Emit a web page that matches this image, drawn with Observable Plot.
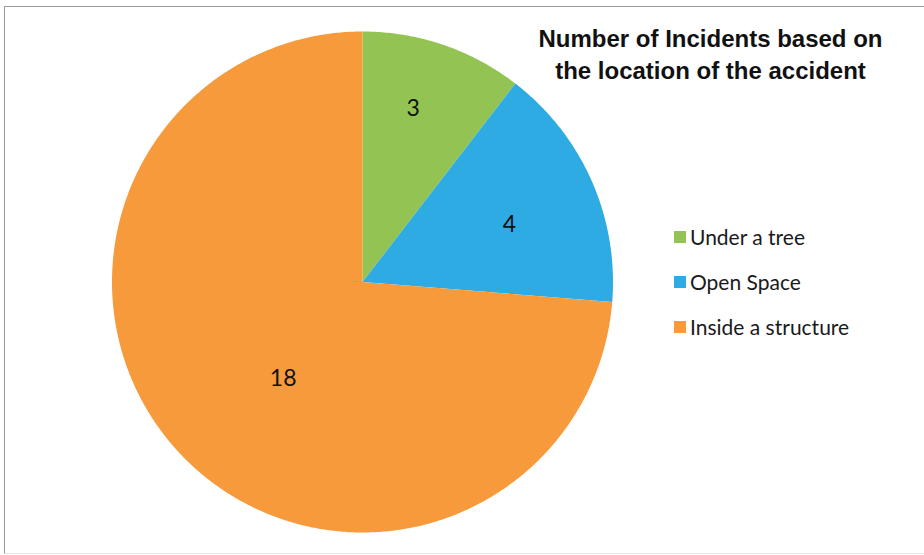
<!DOCTYPE html>
<html>
<head>
<meta charset="utf-8">
<script src="https://cdn.jsdelivr.net/npm/d3@7"></script>
<script src="https://cdn.jsdelivr.net/npm/@observablehq/plot@0.6"></script>
<style>
  html, body { margin: 0; padding: 0; background: #fff; }
  #wrap { position: relative; width: 924px; height: 555px; overflow: hidden; }
  #frame { position: absolute; left: 4px; top: 6px; width: 930px; height: 546px;
           border-left: 1px solid #9a9a9a; border-top: 1px solid #9a9a9a; border-bottom: 1px solid #e6e6e6; }
  #chart { position: absolute; left: 0; top: 0; }
  #title { position: absolute; left: 510px; width: 401px; top: 23px; text-align: center;
           font-family: "Liberation Sans", Arial, sans-serif; font-weight: bold; font-size: 24px;
           line-height: 32px; color: #111; }
  #legend { position: absolute; left: 674px; top: 214px; font-family: Lato, "Open Sans", sans-serif;
            font-size: 21px; color: #1a1a1a; }
  .item { display: flex; align-items: center; height: 45px; }
  .sw { width: 12px; height: 12px; margin-right: 4px; }
</style>
</head>
<body>
<div id="wrap">
  <div id="frame"></div>
  <div id="chart"></div>
  <div id="title">Number of Incidents based on<br>the location of the accident</div>
  <div id="legend"></div>
</div>
<script>
// Categories and their data labels as printed on the chart
const categories = ["Under a tree", "Open Space", "Inside a structure"];
const countLabels = ["3", "4", "18"];
const sliceDegrees = [37.6, 57.0, 265.4];
const colors = ["#93c453", "#2eabe2", "#f69a3b"];

// layout: label placement (fraction of radius, angle offset in degrees) per slice
const labelRadius = [0.72, 0.63, 0.50];
const labelTurn = [-2.5, 2.6, -8];

const pie = d3.pie().sort(null).value(d => d)(sliceDegrees);
const rad = Math.PI / 180;

const pts = [];
const labels = [];
pie.forEach((s, i) => {
  pts.push({key: categories[i], x: 0, y: 0});
  const a0 = s.startAngle, a1 = s.endAngle;
  const n = Math.max(2, Math.ceil((a1 - a0) / (0.5 * rad)));
  for (let k = 0; k <= n; k++) {
    const a = a0 + (a1 - a0) * k / n;
    pts.push({key: categories[i], x: Math.sin(a), y: Math.cos(a)});
  }
  const m = (a0 + a1) / 2 + labelTurn[i] * rad;
  const lr = labelRadius[i];
  labels.push({text: countLabels[i], x: lr * Math.sin(m), y: lr * Math.cos(m)});
});

const plot = Plot.plot({
  width: 924,
  height: 555,
  margin: 0,
  x: {domain: [-1, 1], range: [111.5, 612.5], axis: null},
  y: {domain: [-1, 1], range: [532, 31], axis: null},
  color: {domain: categories, range: colors},
  style: {background: "transparent"},
  marks: [
    Plot.line(pts, {x: "x", y: "y", z: "key", fill: "key", stroke: "none", curve: "linear-closed"}),
    Plot.text(labels, {x: "x", y: "y", text: "text", fontSize: 23, fill: "#111",
                       fontFamily: "Lato, 'Open Sans', sans-serif"})
  ]
});
document.getElementById("chart").appendChild(plot);

const legend = document.getElementById("legend");
categories.forEach((c, i) => {
  const row = document.createElement("div");
  row.className = "item";
  const sw = document.createElement("div");
  sw.className = "sw";
  sw.style.background = colors[i];
  const t = document.createElement("span");
  t.textContent = c;
  row.appendChild(sw);
  row.appendChild(t);
  legend.appendChild(row);
});
</script>
</body>
</html>
